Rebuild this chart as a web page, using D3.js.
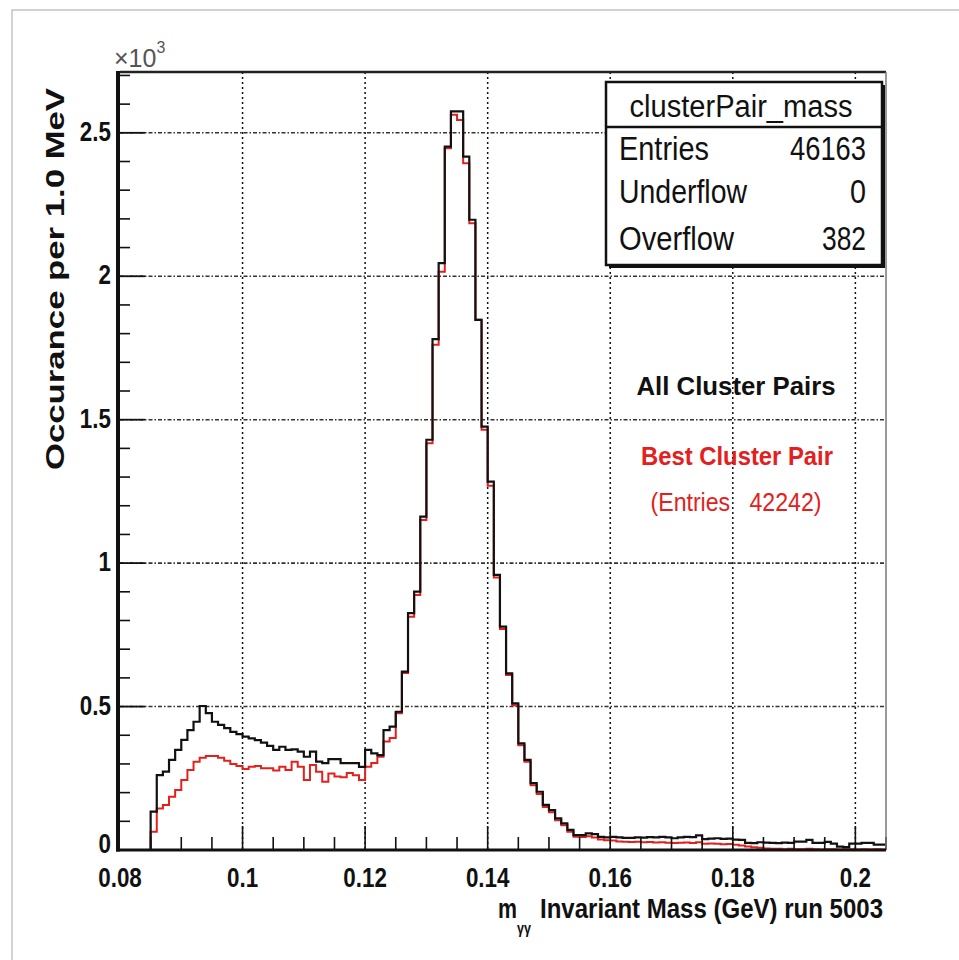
<!DOCTYPE html>
<html>
<head>
<meta charset="utf-8">
<script src="https://cdn.jsdelivr.net/npm/d3@7"></script>
<style>
  body { margin: 0; background: #fff; }
  svg { display: block; }
  text { font-family: "Liberation Sans", Arial, Helvetica, sans-serif; }
</style>
</head>
<body>
<svg id="chart"></svg>
<script>
// histogram: 1 MeV bins starting at 0.080 GeV
const binLow = 0.080;
const binWidth = 0.001;

// all cluster pairs (black), counts per bin
const allPairs = [
  0, 0, 0, 0, 0, 134, 261, 273, 314, 349,
  384, 418, 447, 502, 477, 447, 436, 425, 412, 404,
  395, 389, 383, 374, 363, 349, 360, 349, 351, 343,
  325, 343, 308, 303, 317, 317, 303, 303, 303, 290,
  349, 337, 331, 418, 430, 482, 622, 826, 901, 1162,
  1430, 1781, 2046, 2452, 2575, 2575, 2417, 2197, 1848, 1476,
  1284, 959, 779, 616, 511, 372, 314, 233, 203, 157,
  139, 110, 93, 70, 52, 52, 58, 55, 46, 44,
  46, 44, 42, 42, 44, 43, 45, 44, 46, 44,
  41, 44, 46, 45, 51, 38, 40, 41, 39, 40,
  36, 35, 25, 24, 27, 26, 25, 24, 26, 25,
  29, 29, 35, 25, 25, 28, 22, 12, 10, 22,
  22, 25, 25, 19, 19
];

// best cluster pair (red), counts per bin
const bestPair = [
  0, 0, 0, 0, 0, 64, 145, 157, 186, 209,
  244, 279, 308, 322, 328, 328, 322, 311, 300, 293,
  282, 290, 293, 285, 285, 277, 290, 279, 308, 290,
  244, 296, 273, 238, 267, 256, 254, 268, 261, 244,
  290, 303, 325, 378, 390, 477, 617, 813, 889, 1150,
  1418, 1761, 2016, 2446, 2563, 2545, 2394, 2185, 1848, 1465,
  1270, 950, 770, 610, 505, 365, 308, 226, 195, 150,
  132, 104, 86, 64, 46, 45, 48, 44, 37, 34,
  33, 30, 29, 28, 29, 27, 28, 26, 27, 25,
  24, 25, 26, 24, 27, 22, 23, 22, 20, 21,
  18, 16, 12, 10, 8, 5, 4, 4, 3, 4,
  3, 3, 4, 3, 2, 3, 3, 2, 3, 3,
  2, 3, 2, 3, 2
];

const xTicks = [0.08, 0.1, 0.12, 0.14, 0.16, 0.18, 0.2];
const xTickLabels = ["0.08", "0.1", "0.12", "0.14", "0.16", "0.18", "0.2"];
const yTicks = [0, 500, 1000, 1500, 2000, 2500];
const yTickLabels = ["0", "0.5", "1", "1.5", "2", "2.5"];

const statsTitle = "clusterPair_mass";
const statLabels = ["Entries", "Underflow", "Overflow"];
const statValues = ["46163", "0", "382"];

const W = 959, H = 960;
const RED = "#e3201c";

const svg = d3.select("#chart").attr("width", W).attr("height", H);

// canvas frame (only top and left visible)
svg.append("path")
  .attr("d", `M12,${H} L12,10 L${W},10`)
  .attr("fill", "none").attr("stroke", "#c4c4c4").attr("stroke-width", 1.5);

const plot = { left: 120, right: 886, top: 72, bottom: 850 };

const x = d3.scaleLinear().domain([0.08, 0.205]).range([plot.left, plot.right]);
const y = d3.scaleLinear().domain([0, 2712]).range([plot.bottom, plot.top]);

// grid
const grid = svg.append("g");
grid.selectAll("line.vg")
  .data(xTicks.slice(1))
  .join("line")
  .attr("x1", d => x(d)).attr("x2", d => x(d))
  .attr("y1", plot.top).attr("y2", plot.bottom)
  .attr("stroke", "#111").attr("stroke-width", 1.5)
  .attr("stroke-dasharray", "2,3");
grid.selectAll("line.hg")
  .data(yTicks.slice(1))
  .join("line")
  .attr("x1", plot.left).attr("x2", plot.right)
  .attr("y1", d => y(d)).attr("y2", d => y(d))
  .attr("stroke", "#333").attr("stroke-width", 1.6)
  .attr("stroke-dasharray", "4,2,1.5,2");

// histograms
function stepPoints(values) {
  const pts = values.map((v, i) => [binLow + i * binWidth, v]);
  pts.push([binLow + values.length * binWidth, values[values.length - 1]]);
  return pts;
}
const line = d3.line()
  .x(d => x(d[0]))
  .y(d => y(d[1]))
  .curve(d3.curveStepAfter);

svg.append("path")
  .attr("d", line(stepPoints(bestPair)))
  .attr("fill", "none").attr("stroke", RED).attr("stroke-width", 2);

svg.append("path")
  .attr("d", line(stepPoints(allPairs)))
  .attr("fill", "none").attr("stroke", "#111").attr("stroke-width", 2.2);

// axis ticks
const ticks = svg.append("g").attr("stroke", "#111");
const xMinor = d3.range(0.085, 0.2051, 0.005).filter(v => !xTicks.some(t => Math.abs(t - v) < 1e-6));
ticks.selectAll("line.xmin")
  .data(xMinor)
  .join("line")
  .attr("x1", d => x(d)).attr("x2", d => x(d))
  .attr("y1", plot.bottom).attr("y2", plot.bottom - 13)
  .attr("stroke-width", 1.6);
ticks.selectAll("line.xmaj")
  .data(xTicks.slice(1))
  .join("line")
  .attr("x1", d => x(d)).attr("x2", d => x(d))
  .attr("y1", plot.bottom).attr("y2", plot.bottom - 24)
  .attr("stroke-width", 1.6);
const yMinor = d3.range(100, 2701, 100).filter(v => v % 500 !== 0);
ticks.selectAll("line.ymin")
  .data(yMinor)
  .join("line")
  .attr("x1", plot.left).attr("x2", plot.left + 10)
  .attr("y1", d => y(d)).attr("y2", d => y(d))
  .attr("stroke-width", 1.6);
ticks.selectAll("line.ymaj")
  .data(yTicks.slice(1))
  .join("line")
  .attr("x1", plot.left).attr("x2", plot.left + 25)
  .attr("y1", d => y(d)).attr("y2", d => y(d))
  .attr("stroke-width", 1.8);

// frame
svg.append("line").attr("x1", plot.left).attr("x2", plot.right)
  .attr("y1", plot.top).attr("y2", plot.top)
  .attr("stroke", "#222").attr("stroke-width", 2.5);
svg.append("line").attr("x1", plot.right).attr("x2", plot.right)
  .attr("y1", plot.top).attr("y2", plot.bottom)
  .attr("stroke", "#777").attr("stroke-width", 1.5);
svg.append("line").attr("x1", plot.left - 2).attr("x2", plot.left - 2)
  .attr("y1", plot.top - 1).attr("y2", plot.bottom + 1.5)
  .attr("stroke", "#111").attr("stroke-width", 4);
svg.append("line").attr("x1", plot.left - 4).attr("x2", plot.right)
  .attr("y1", plot.bottom).attr("y2", plot.bottom)
  .attr("stroke", "#111").attr("stroke-width", 3);

// tick labels (condensed)
svg.append("g").selectAll("text")
  .data(xTicks)
  .join("text")
  .attr("transform", d => `translate(${x(d)},887) scale(0.8,1)`)
  .attr("text-anchor", "middle")
  .attr("font-size", 28).attr("font-weight", "bold").attr("fill", "#111")
  .text((d, i) => xTickLabels[i]);

svg.append("g").selectAll("text")
  .data(yTicks)
  .join("text")
  .attr("transform", d => `translate(111,${y(d) + (d === 0 ? 3 : 8)}) scale(0.8,1)`)
  .attr("text-anchor", "end")
  .attr("font-size", 28).attr("font-weight", "bold").attr("fill", "#111")
  .text((d, i) => yTickLabels[i]);

// x10^3 multiplier
const mult = svg.append("text").attr("x", 114).attr("y", 67)
  .attr("font-size", 25).attr("fill", "#555");
mult.append("tspan").text("\u00d710");
mult.append("tspan").attr("dy", -14).attr("font-size", 16).text("3");

// axis titles
svg.append("text")
  .attr("transform", "translate(64,88) rotate(-90)")
  .attr("text-anchor", "end")
  .attr("font-size", 26).attr("font-weight", "bold").attr("fill", "#111")
  .attr("textLength", 382).attr("lengthAdjust", "spacingAndGlyphs")
  .text("Occurance per 1.0 MeV");

svg.append("text").attr("x", 498).attr("y", 918)
  .attr("font-size", 28).attr("font-weight", "bold").attr("fill", "#111")
  .attr("textLength", 19).attr("lengthAdjust", "spacingAndGlyphs")
  .text("m");
svg.append("text").attr("x", 517).attr("y", 934)
  .attr("font-size", 17).attr("font-weight", "bold").attr("fill", "#111")
  .attr("textLength", 14).attr("lengthAdjust", "spacingAndGlyphs")
  .text("\u03b3\u03b3");
svg.append("text").attr("x", 540).attr("y", 918)
  .attr("font-size", 28).attr("font-weight", "bold").attr("fill", "#111")
  .attr("textLength", 343).attr("lengthAdjust", "spacingAndGlyphs")
  .text("Invariant Mass (GeV) run 5003");

// stats box
const box = { x: 606, y: 82, w: 276, h: 183, sep: 127 };
svg.append("rect")
  .attr("x", box.x + 3).attr("y", box.y + 3).attr("width", box.w).attr("height", box.h)
  .attr("fill", "#111");
svg.append("rect")
  .attr("x", box.x).attr("y", box.y).attr("width", box.w).attr("height", box.h)
  .attr("fill", "#fff").attr("stroke", "#111").attr("stroke-width", 2.5);
svg.append("line")
  .attr("x1", box.x).attr("x2", box.x + box.w)
  .attr("y1", box.sep).attr("y2", box.sep)
  .attr("stroke", "#111").attr("stroke-width", 2.5);
svg.append("text").attr("x", 741).attr("y", 117)
  .attr("text-anchor", "middle").attr("font-size", 31).attr("fill", "#111")
  .attr("textLength", 223).attr("lengthAdjust", "spacingAndGlyphs")
  .text(statsTitle);

const rowBase = [160, 203, 250];
const labelLen = [90, 128, 115];
const valueLen = [76, 16, 44];
statLabels.forEach((lab, i) => {
  svg.append("text").attr("x", 619).attr("y", rowBase[i])
    .attr("font-size", 34).attr("fill", "#111")
    .attr("textLength", labelLen[i]).attr("lengthAdjust", "spacingAndGlyphs")
    .text(lab);
  svg.append("text").attr("x", 866).attr("y", rowBase[i])
    .attr("text-anchor", "end").attr("font-size", 34).attr("fill", "#111")
    .attr("textLength", valueLen[i]).attr("lengthAdjust", "spacingAndGlyphs")
    .text(statValues[i]);
});

// annotations
svg.append("text").attr("x", 736).attr("y", 395)
  .attr("text-anchor", "middle").attr("font-size", 26).attr("font-weight", "bold").attr("fill", "#111")
  .attr("textLength", 199).attr("lengthAdjust", "spacingAndGlyphs")
  .text("All Cluster Pairs");
svg.append("text").attr("x", 737).attr("y", 465)
  .attr("text-anchor", "middle").attr("font-size", 26).attr("font-weight", "bold").attr("fill", RED)
  .attr("textLength", 192).attr("lengthAdjust", "spacingAndGlyphs")
  .text("Best Cluster Pair");
svg.append("text").attr("x", 736).attr("y", 511)
  .attr("text-anchor", "middle").attr("font-size", 25).attr("fill", RED)
  .attr("textLength", 171).attr("lengthAdjust", "spacingAndGlyphs")
  .attr("xml:space", "preserve").style("white-space", "pre")
  .text("(Entries   42242)");
</script>
</body>
</html>
